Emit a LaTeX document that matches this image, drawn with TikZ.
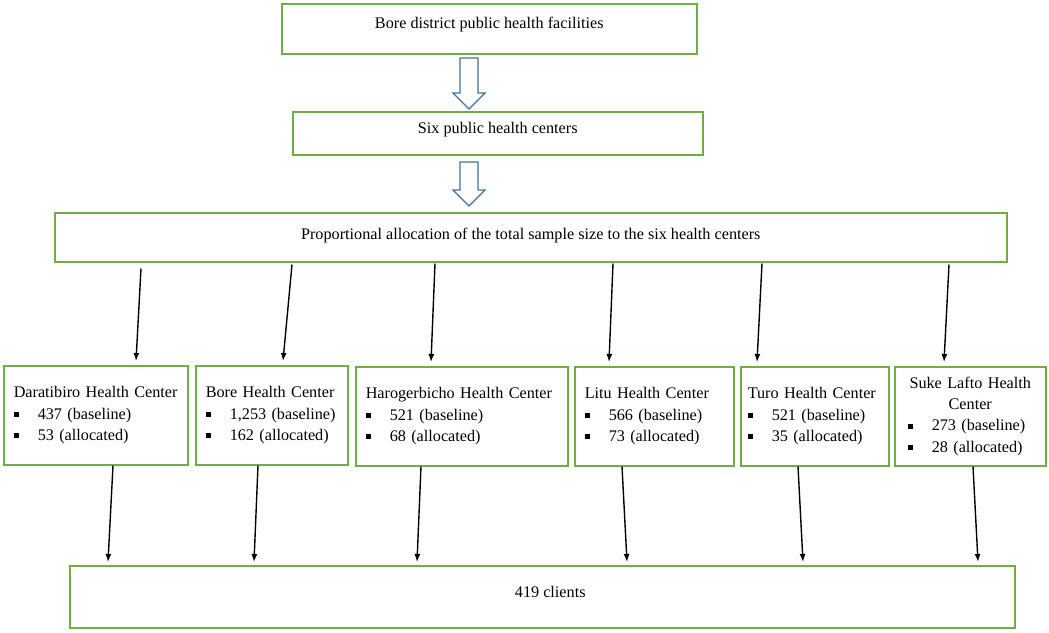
\documentclass[tikz,border=0pt]{standalone}
\usepackage{fontspec}
\setmainfont{Liberation Serif}
\usetikzlibrary{calc}
\usetikzlibrary{arrows.meta}
\definecolor{boxgreen}{RGB}{112,173,71}
\definecolor{arrowblue}{RGB}{65,113,156}
\hyphenpenalty=10000
\newcommand{\bul}{\makebox[24pt][l]{\rule[2pt]{5pt}{5pt}}}
\tikzset{%
    stage/.style={draw=boxgreen,line width=1.5pt,fill=white,inner sep=0pt,anchor=north west},
    centre/.style={stage,inner xsep=10pt,align=left,minimum height=99pt},
    flow/.style={-{Latex[length=8pt,width=6pt]},line width=1.4pt},
    hollow/.style={draw=arrowblue,line width=1.1pt,fill=white},
}

\begin{document}
\begin{tikzpicture}[x=1pt,y=-1pt,font=\fontsize{16.2}{21.3}\selectfont]
        \useasboundingbox (0,0) rectangle (1049,632);

        \node [stage,minimum width=415pt,minimum height=50pt,text height=11pt,text depth=12pt] (district) at (281,3) {Bore district public health facilities};
        \node [stage,minimum width=410pt,minimum height=43pt,text height=11pt,text depth=10pt] (six) at (292,111) {Six public health centers};
        \node [stage,minimum width=952pt,minimum height=49pt,text height=11pt,text depth=7pt] (alloc) at (54,212) {Proportional allocation of the total sample size to the six health centers};

        \draw[hollow] (460,58) -- (478,58) -- (478,93) -- (485,93) -- (469,109) -- (453,93) -- (460,93) -- cycle;
        \draw[hollow] (460,162) -- (478,162) -- (478,190) -- (485,190) -- (469,206) -- (453,190) -- (460,190) -- cycle;

        \node [centre,text width=164pt] (hc1) at (3,365) {Daratibiro Health Center\\\bul437 (baseline)\\\bul53 (allocated)};
        \node [centre,text width=132pt] (hc2) at (195,365) {Bore Health Center\\\bul1,253 (baseline)\\\bul162 (allocated)};
        \node [centre,text width=192pt] (hc3) at (355,366) {Harogerbicho Health Center\\\bul521 (baseline)\\\bul68 (allocated)};
        \node [centre,text width=139pt] (hc4) at (574,366) {Litu Health Center\\\bul566 (baseline)\\\bul73 (allocated)};
        \node [centre,text width=134pt,inner xsep=7pt] (hc5) at (740,366) {Turo Health Center\\\bul521 (baseline)\\\bul35 (allocated)};
        \node [centre,text width=125pt,inner xsep=13pt] (hc6) at (894,366) {{\centering Suke Lafto Health\\Center\par}\bul273 (baseline)\\\bul28 (allocated)};

        \node [stage,minimum width=945pt,minimum height=62pt,text height=11pt,text depth=10pt] (clients) at (69,565) {\hspace*{16pt}419 clients};

        % allocation to the health centers
        \foreach \i/\a/\s/\b in {1/87/-6/133, 2/238/-2/88, 3/381/-1/76, 4/559/-1/35, 5/708/-1/17, 6/895/-2/50}
            \draw[flow] ([xshift=\a,yshift=\s]alloc.south west) -- ([xshift=\b,yshift=4pt]hc\i.north west);

        % health centers to the clients
        \foreach \i/\a/\b in {1/110/39, 2/63/185, 3/66/348, 4/48/558, 5/58/734, 6/79/909}
            \draw[flow] ([xshift=\a]hc\i.south west) -- ([xshift=\b,yshift=3pt]clients.north west);
\end{tikzpicture}
\end{document}
